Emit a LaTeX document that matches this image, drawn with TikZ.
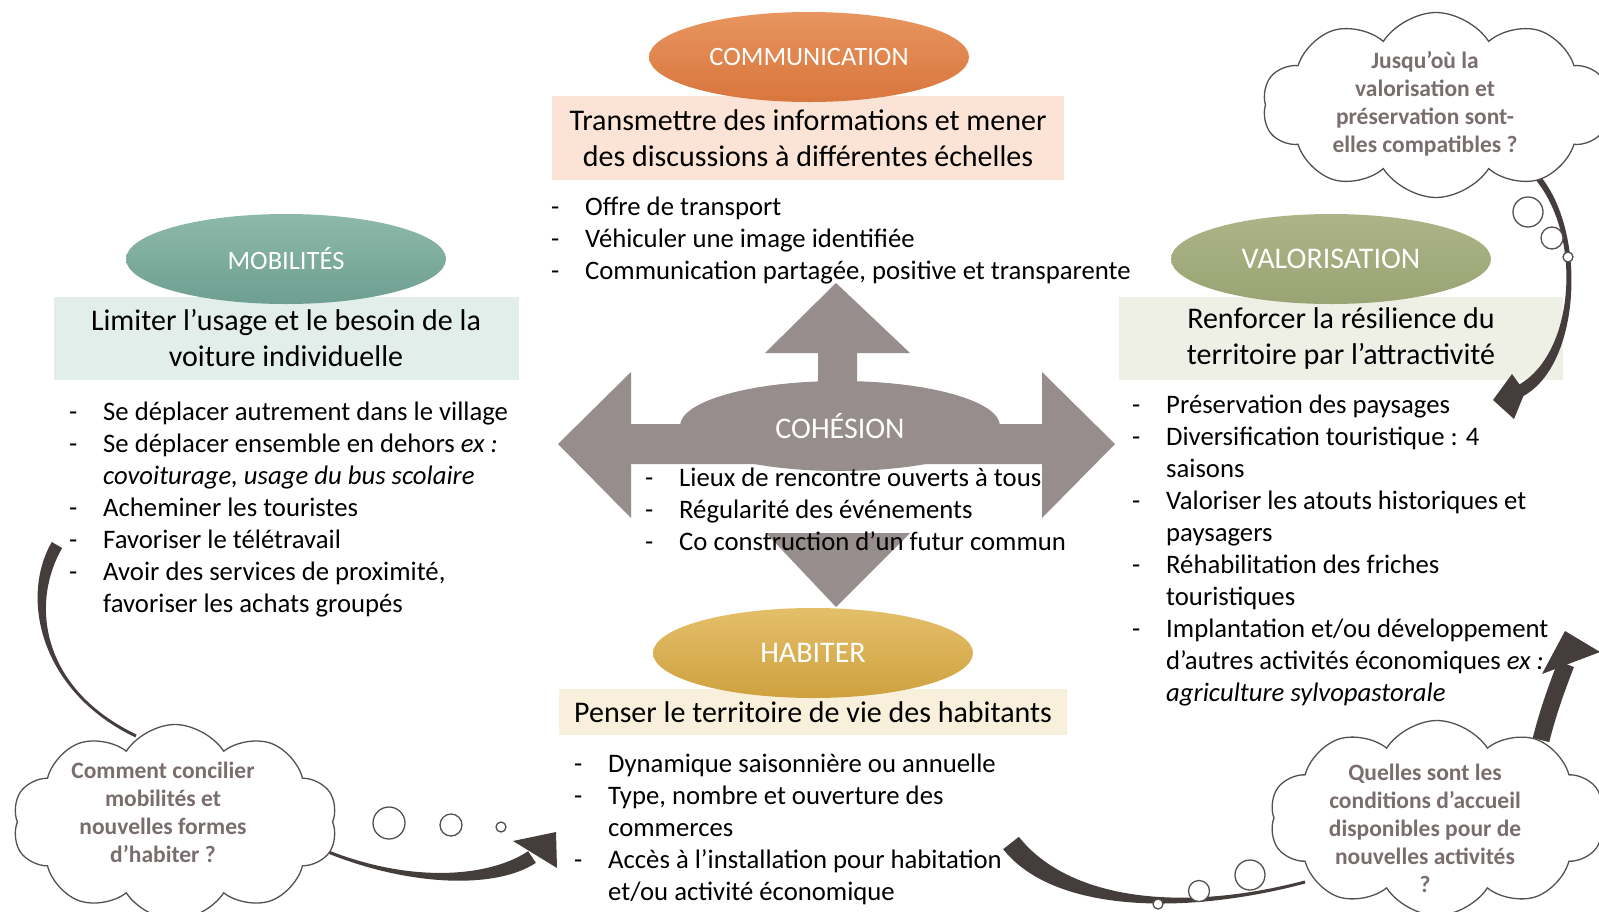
\documentclass[tikz,border=0pt]{standalone}
\usepackage{fontspec}
\setmainfont{Carlito}
\usetikzlibrary{shapes.geometric,shapes.symbols,calc}

\definecolor{commc}{HTML}{DF8049}
\definecolor{commtop}{HTML}{E8955F}
\definecolor{commbot}{HTML}{D8763D}
\definecolor{commbox}{HTML}{FBE4D5}
\definecolor{mobtop}{HTML}{8DB9AB}
\definecolor{mobbot}{HTML}{6E9F90}
\definecolor{mobbox}{HTML}{E2EEEA}
\definecolor{valtop}{HTML}{ADB588}
\definecolor{valbot}{HTML}{99A373}
\definecolor{valbox}{HTML}{EEF0E6}
\definecolor{habtop}{HTML}{E4BF6A}
\definecolor{habbot}{HTML}{CFA13F}
\definecolor{habbox}{HTML}{F8F0DB}
\definecolor{cohc}{HTML}{978D8C}
\definecolor{arrc}{HTML}{443D3C}
\definecolor{cloudline}{HTML}{555050}
\definecolor{cloudtxt}{HTML}{7A6D6D}

\newcommand\ellf{\fontsize{26.5}{30}\selectfont}
\newcommand\ellbigf{\fontsize{30}{34}\selectfont}
\newcommand\headf{\fontsize{30}{36}\selectfont}
\newcommand\listf{\fontsize{26.7}{32}\selectfont}
\newcommand\cloudf{\fontsize{23.5}{28}\selectfont\bfseries}

\newlength\dashw
\setlength\dashw{34pt}
\newcommand\itm[1]{\par\noindent\hangindent=\dashw\hangafter=1\makebox[\dashw][l]{-}#1}
\newcommand\blist[1]{\begin{minipage}[t]{620pt}\listf #1\end{minipage}}

\newcommand\taper[6]{%
\fill[arrc] ($(#1)!#5!90:(#2)$) .. controls ($(#2)!#5!-90:(#1)$) and ($(#3)!#6!90:(#4)$) .. ($(#4)!#6!-90:(#3)$) -- ($(#4)!#6!90:(#3)$) .. controls ($(#3)!#6!-90:(#4)$) and ($(#2)!#5!90:(#1)$) .. ($(#1)!#5!-90:(#2)$) -- cycle;}

\begin{document}
\begin{tikzpicture}[x=1pt,y=-1pt,
  ell/.style={ellipse, inner sep=0pt, minimum width=320pt, minimum height=90pt, text=white, font=\ellf},
  headbox/.style={rectangle, inner sep=0pt, align=center, font=\headf, text=black},
  listnode/.style={anchor=base west, inner sep=0pt},
  cloudsh/.style={cloud, cloud puffs=10, cloud puff arc=115, cloud ignores aspect, draw=cloudline, line width=1.3pt, fill=white, inner sep=0pt},
  cloudtext/.style={align=center, font=\cloudf, text=cloudtxt, inner sep=0pt},
  bubble/.style={circle, draw=cloudline, line width=1.3pt, fill=white, inner sep=0pt}]

\path[use as bounding box, fill=white] (0,0) rectangle (1599,911);

% heading boxes
\node[headbox, fill=commbox, minimum width=512pt, minimum height=84pt] (commbox) at (808,138) {Transmettre des informations et mener\\des discussions à différentes échelles};
\node[headbox, fill=mobbox, minimum width=465pt, minimum height=83pt] (mobbox) at (286,338) {Limiter l’usage et le besoin de la\\voiture individuelle};
\node[headbox, fill=valbox, minimum width=444pt, minimum height=83pt] (valbox) at (1341,338) {Renforcer la résilience du\\territoire par l’attractivité};
\node[headbox, fill=habbox, minimum width=508pt, minimum height=46pt] (habbox) at (813,712) {Penser le territoire de vie des habitants};

% ellipses
\node[ell, top color=commtop, bottom color=commbot] (comm) at (809,57) {COMMUNICATION};
\node[ell, top color=mobtop, bottom color=mobbot] (mob) at (286,259) {MOBILITÉS};
\node[ell, top color=valtop, bottom color=valbot, font=\ellbigf] (val) at (1331,259) {VALORISATION};
\node[ell, top color=habtop, bottom color=habbot, font=\ellbigf] (hab) at (813,653) {HABITER};

% central cohesion shape
\fill[cohc] (818,400) -- (818,353) -- (765,353) -- (836,283) -- (910,353) -- (857,353) -- (857,400) -- cycle;
\fill[cohc] (558,444) -- (631,372) -- (631,424) -- (1042,424) -- (1042,372) -- (1115,444) -- (1042,518) -- (1042,464) -- (631,464) -- (631,518) -- cycle;
\fill[cohc] (766,533) -- (910,533) -- (836,607) -- cycle;
\node[ellipse, fill=cohc, inner sep=0pt, minimum width=320pt, minimum height=90pt, text=white, font=\ellbigf] (coh) at (840,426) {COHÉSION};

% lists
\node[listnode] (commlist) at (551,215.5) {\blist{%
\itm{Offre de transport}
\itm{Véhiculer une image identifiée}
\itm{Communication partagée, positive et transparente}}};

\node[listnode] (moblist) at (69,420.5) {\blist{%
\itm{Se déplacer autrement dans le village}
\itm{Se déplacer ensemble en dehors \textit{ex :}\newline\textit{covoiturage, usage du bus scolaire}}
\itm{Acheminer les touristes}
\itm{Favoriser le télétravail}
\itm{Avoir des services de proximité,\newline favoriser les achats groupés}}};

\node[listnode] (cohlist) at (645,486.5) {\blist{%
\itm{Lieux de rencontre ouverts à tous}
\itm{Régularité des événements}
\itm{Co construction d’un futur commun}}};

\node[listnode] (hablist) at (574,772) {\blist{%
\itm{Dynamique saisonnière ou annuelle}
\itm{Type, nombre et ouverture des\newline commerces}
\itm{Accès à l’installation pour habitation\newline et/ou activité économique}}};

\node[listnode] (vallist) at (1132,413.5) {\blist{%
\itm{Préservation des paysages}
\itm{Diversification touristique : 4\newline saisons}
\itm{Valoriser les atouts historiques et\newline paysagers}
\itm{Réhabilitation des friches\newline touristiques}
\itm{Implantation et/ou développement\newline d’autres activités économiques \textit{ex :}\newline\textit{agriculture sylvopastorale}}}};

% curved arrows
\coordinate (a1s) at (1538,178); \coordinate (a1c) at (1585,235); \coordinate (a1d) at (1578,360); \coordinate (a1e) at (1520,391);
\taper{a1s}{a1c}{a1d}{a1e}{3pt}{6pt}
\fill[arrc] (1493,400) -- (1512,374) -- (1525,392) -- (1514,419) -- cycle;

\coordinate (a2s) at (57,545); \coordinate (a2c) at (25,600); \coordinate (a2d) at (40,690); \coordinate (a2e) at (136,736);
\taper{a2s}{a2c}{a2d}{a2e}{6pt}{1.5pt}

\coordinate (a3s) at (312,845); \coordinate (a3c) at (400,885); \coordinate (a3d) at (490,885); \coordinate (a3e) at (532,857);
\taper{a3s}{a3c}{a3d}{a3e}{1.5pt}{7pt}
\fill[arrc] (556,832) -- (513,841) -- (557,868) -- cycle;

\coordinate (a4s) at (1011,843); \coordinate (a4c) at (1060,905); \coordinate (a4d) at (1180,915); \coordinate (a4e) at (1305,882);
\taper{a4s}{a4c}{a4d}{a4e}{10pt}{1.5pt}

\coordinate (a5s) at (1541,740); \coordinate (a5c) at (1548,712); \coordinate (a5d) at (1556,690); \coordinate (a5e) at (1566,664);
\taper{a5s}{a5c}{a5d}{a5e}{8.5pt}{8.5pt}
\fill[arrc] (1565,631) -- (1600,652) -- (1542,674) -- cycle;

% clouds
\node[cloudsh, minimum width=347pt, minimum height=185pt] (cloud1) at (1436,105) {};
\node[cloudsh, minimum width=325pt, minimum height=195pt] (cloud2) at (175,822) {};
\node[cloudsh, minimum width=335pt, minimum height=195pt] (cloud3) at (1437,818) {};

\node[cloudtext] (cloud1t) at (1425,104) {Jusqu’où la\\valorisation et\\préservation sont-\\elles compatibles ?};
\node[cloudtext] (cloud2t) at (163,812) {Comment concilier\\mobilités et\\nouvelles formes\\d’habiter ?};
\node[cloudtext] (cloud3t) at (1425,828) {Quelles sont les\\conditions d’accueil\\disponibles pour de\\nouvelles activités\\?};

% thought bubbles
\node[bubble, minimum size=30pt] (b11) at (1528,212) {};
\node[bubble, minimum size=22pt] (b12) at (1552,238) {};
\node[bubble, minimum size=10pt] (b13) at (1568,257) {};
\node[bubble, minimum size=32pt] (b21) at (389,823) {};
\node[bubble, minimum size=22pt] (b22) at (451,825) {};
\node[bubble, minimum size=10pt] (b23) at (501,827) {};
\node[bubble, minimum size=30pt] (b31) at (1250,875) {};
\node[bubble, minimum size=21pt] (b32) at (1199,891) {};
\node[bubble, minimum size=10pt] (b33) at (1158,904) {};
\end{tikzpicture}
\end{document}
